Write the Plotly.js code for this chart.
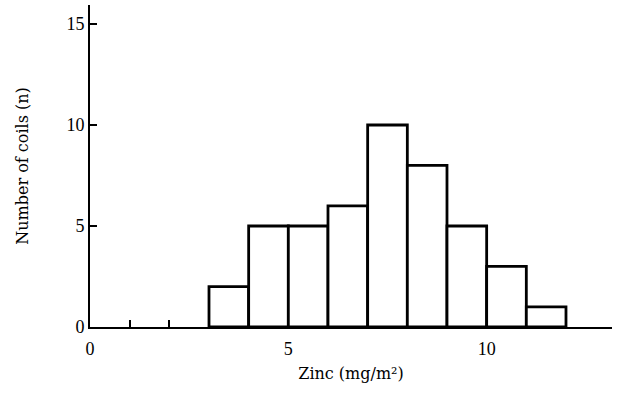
<!DOCTYPE html>
<html>
<head>
<meta charset="utf-8">
<script src="https://cdn.plot.ly/plotly-3.0.1.min.js"></script>
<style>html,body{margin:0;padding:0;background:#fff;}#chart{width:620px;height:400px;}</style>
</head>
<body>
<div id="chart"></div>
<script>
// Histogram of zinc coating: bin edges (mg/m²) and counts
const binStarts = [3, 4, 5, 6, 7, 8, 9, 10, 11];
const binWidth = 1;
const counts = [2, 5, 5, 6, 10, 8, 5, 3, 1];
const xTickVals = [0, 5, 10];
const xTickText = ["0", "5", "10"];
const xMinorTickVals = [1, 2, 3, 4, 6, 7, 8, 9, 11, 12];
const yTickVals = [0, 5, 10, 15];
const yTickText = ["0", "5", "10", "15"];

const centers = binStarts.map(s => s + binWidth / 2);

const trace = {
  type: 'bar',
  x: centers,
  y: counts,
  width: binStarts.map(() => binWidth),
  marker: { color: '#ffffff', line: { color: '#000000', width: 2.8 } },
  hoverinfo: 'x+y'
};

const serif = 'Liberation Serif, Times New Roman, serif';
const layout = {
  width: 620, height: 400,
  margin: { l: 90, r: 8, t: 5, b: 73 },
  paper_bgcolor: '#ffffff', plot_bgcolor: '#ffffff',
  showlegend: false,
  bargap: 0,
  xaxis: {
    range: [0, 13.16],
    showgrid: false, zeroline: false,
    showline: true, linecolor: '#000', linewidth: 2,
    tickmode: 'array', tickvals: xTickVals, ticktext: xTickText,
    ticks: '',
    minor: { tickmode: 'array', tickvals: xMinorTickVals, ticks: 'inside', ticklen: 7, tickwidth: 2, tickcolor: '#000' },
    tickfont: { family: serif, size: 18, color: '#000' },
    ticklabelstandoff: 4,
    title: { text: 'Zinc (mg/m²)', font: { family: 'DejaVu Serif, serif', size: 16, color: '#000' }, standoff: 10 }
  },
  yaxis: {
    range: [0, 15.94],
    showgrid: false, zeroline: false,
    showline: true, linecolor: '#000', linewidth: 2,
    tickmode: 'array', tickvals: yTickVals, ticktext: yTickText,
    ticks: 'inside', ticklen: 7, tickwidth: 1.5, tickcolor: '#000',
    tickfont: { family: serif, size: 18, color: '#000' },
    title: { text: 'Number of coils (n)', font: { family: 'DejaVu Serif, serif', size: 16, color: '#000' }, standoff: 34 }
  }
};

Plotly.newPlot('chart', [trace], layout, { displayModeBar: false, staticPlot: true });
</script>
</body>
</html>
